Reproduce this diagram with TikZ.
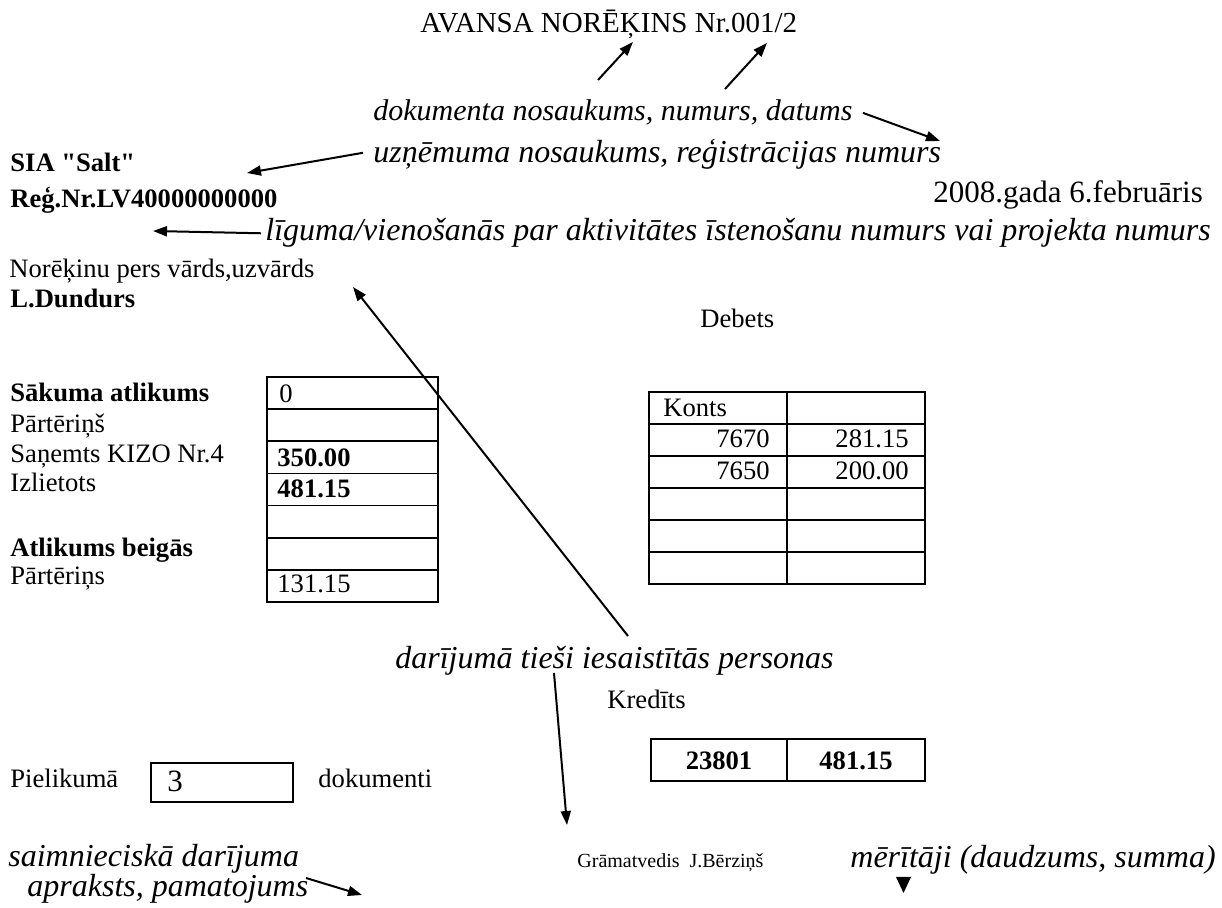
\documentclass[tikz,border=0pt]{standalone}
\usepackage{fontspec}
\setmainfont{Liberation Serif}[Ligatures=TeXOff]
\usetikzlibrary{arrows.meta,positioning}
\newcommand\bodyfont{\fontsize{13.3}{15}\selectfont}
\newcommand\lblfont{\fontsize{16}{18}\selectfont\itshape}
\newcommand\titlefont{\fontsize{14.5}{17}\selectfont}
\newcommand\datefont{\fontsize{15.5}{18}\selectfont}

\begin{document}
\begin{tikzpicture}[x=0.5pt, y=-0.5pt, >={Triangle[length=7pt,width=5pt]},
    txt/.style={anchor=base west, inner sep=0pt, font=\bodyfont},
    bold/.style={txt, font=\bodyfont\bfseries},
    lbl/.style={anchor=base west, inner sep=0pt, font=\lblfont},
    ptr/.style={->, line width=1pt},
    grid/.style={line width=0.9pt}]
    \useasboundingbox (0,0) rectangle (1222,908);

    % Title
    \node[txt, font=\titlefont] (title) at (420,33) {AVANSA NORĒĶINS Nr.001/2};
    \node[lbl, font=\fontsize{15}{18}\selectfont\itshape] (docname) at (373,121) {dokumenta nosaukums, numurs, datums};
    \coordinate (nametip) at (633,42);
    \coordinate (numtip) at (767,43);
    \coordinate (datetip) at (940,141);
    \draw[ptr] (598,80) -- (nametip);
    \draw[ptr] (725,89) -- (numtip);
    \draw[ptr] ([xshift=5pt]docname.east) -- (datetip);

    % Company and date
    \node[bold] (firm) at (10,172) {SIA "Salt"};
    \node[lbl] (firmlbl) at (373,163) {uzņēmuma nosaukums, reģistrācijas numurs};
    \coordinate (firmtip) at (247,173);
    \draw[ptr] ([xshift=-5pt,yshift=1pt]firmlbl.west) -- (firmtip);
    \node[bold] (regnr) at (10,208) {Reģ.Nr.LV40000000000};
    \node[txt, font=\datefont] (date) at (933,203) {2008.gada 6.februāris};
    \node[lbl] (contract) at (265,241) {līguma/vienošanās par aktivitātes īstenošanu numurs vai projekta numurs};
    \coordinate (contracttip) at (153,231);
    \draw[ptr] ([xshift=-2pt]contract.west) -- (contracttip);
    \node[txt] (person) at (9,278) {Norēķinu pers vārds,uzvārds};
    \node[bold] (personname) at (10,308) {L.Dundurs};

    % Balance labels
    \node[bold] (startbal) at (10,402) {Sākuma atlikums};
    \node[txt] (over1) at (10,433) {Pārtēriņš};
    \node[txt] (received) at (10,463) {Saņemts KIZO Nr.4};
    \node[txt] (used) at (10,492) {Izlietots};
    \node[bold] (endbal) at (10,557) {Atlikums beigās};
    \node[txt] (over2) at (10,585) {Pārtēriņs};

    % Balance table
    \draw[grid] (267,377) rectangle (438,602);
    \foreach \i in {1,...,6}
        \draw[grid] (267,{377+32.14*\i}) -- (438,{377+32.14*\i});
    \node[txt] (v0) at (279,403) {0};
    \node[bold] (v350) at (277,467) {350.00};
    \node[bold] (v481) at (277,498) {481.15};
    \node[txt] (v131) at (277,593) {131.15};

    % Debit table
    \node[txt] (debets) at (700,328) {Debets};
    \draw[grid] (649,392) rectangle (925,584);
    \draw[grid] (787,392) -- (787,584);
    \foreach \i in {1,...,5}
        \draw[grid] (649,{392+32*\i}) -- (925,{392+32*\i});
    \node[txt] (konts) at (663,417) {Konts};
    \node[txt, anchor=base east] (acc1) at (770,448) {7670};
    \node[txt, anchor=base east] (sum1) at (909,448) {281.15};
    \node[txt, anchor=base east] (acc2) at (770,480) {7650};
    \node[txt, anchor=base east] (sum2) at (909,480) {200.00};

    % Persons
    \node[lbl] (persons) at (395,669) {darījumā tieši iesaistītās personas};
    \coordinate (persstart) at (628,636);
    \coordinate (perstip) at (353,287);
    \draw[ptr] (persstart) -- (perstip);

    % Credit table
    \node[txt] (kredits) at (607,709) {Kredīts};
    \draw[grid] (651,739) rectangle (925,781);
    \draw[grid] (787,739) -- (787,781);
    \node[bold, anchor=base] (cracc) at (719,770) {23801};
    \node[bold, anchor=base] (crsum) at (856,770) {481.15};

    % Attachments
    \node[txt] (attach) at (10,788) {Pielikumā};
    \draw[grid] (151,763) rectangle (293,802);
    \node[txt, font=\datefont] (attnum) at (167,792) {3};
    \node[txt] (docs) at (318,788) {dokumenti};

    % Bottom row
    \node[lbl] (descr1) at (8,867) {saimnieciskā darījuma};
    \node[lbl] (descr2) at (27,897) {apraksts, pamatojums};
    \coordinate (descrtail) at (306,878);
    \coordinate (descrtip) at (362,895);
    \draw[ptr] (descrtail) -- (descrtip);
    \node[txt, font=\fontsize{10}{12}\selectfont] (account) at (577,868) {Grāmatvedis\ \ J.Bērziņš};
    \coordinate (acctail) at (554,673);
    \coordinate (acctip) at (567,825);
    \draw[ptr] (acctail) -- (acctip);
    \node[lbl] (measures) at (850,868) {mērītāji (daudzums, summa)};
    \fill (896,877) -- (911,877) -- (903.5,893) -- cycle;
\end{tikzpicture}
\end{document}
